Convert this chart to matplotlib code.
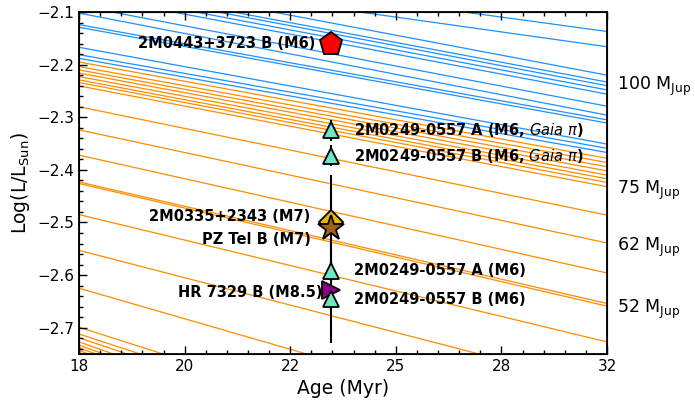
import numpy as np
import matplotlib
matplotlib.use('Agg')
import matplotlib.pyplot as plt
from matplotlib.ticker import MultipleLocator, FixedLocator

## evolutionary tracks, log(L/Lsun) read at 18 and 32 Myr
track_ages = [18, 32]
blue_L18 = [-2.000, -2.025, -2.030, -2.045, -2.050, -2.058, -2.066, -2.088,
            -2.102, -2.124, -2.129, -2.167, -2.181, -2.188]
blue_L32 = [-2.137, -2.166, -2.220, -2.233, -2.240, -2.248, -2.256, -2.279,
            -2.296, -2.305, -2.311, -2.351, -2.359, -2.367]
orange_L18 = [-2.195, -2.2036, -2.210, -2.216, -2.2227, -2.229, -2.234, -2.2404,
              -2.280, -2.324, -2.372, -2.423, -2.426, -2.485, -2.553, -2.625,
              -2.699, -2.712, -2.719, -2.727, -2.733, -2.738, -2.743, -2.747]
orange_L32 = [-2.378, -2.386, -2.394, -2.402, -2.410, -2.417, -2.424, -2.432,
              -2.486, -2.539, -2.596, -2.654, -2.659, -2.727, -2.813, -2.915,
              -3.02, -3.04, -3.06, -3.08, -3.10, -3.12, -3.14, -3.16]

## mass labels on the right
mass_labels = [100, 75, 62, 52]
mass_logL = [-2.233, -2.432, -2.539, -2.657]

## objects
obj_names = ['2M0443+3723 B (M6)', r'2M0249-0557 A (M6, $\mathit{Gaia}$ $\pi$)',
             r'2M0249-0557 B (M6, $\mathit{Gaia}$ $\pi$)', '2M0335+2343 (M7)',
             'PZ Tel B (M7)', '2M0249-0557 A (M6)', 'HR 7329 B (M8.5)', '2M0249-0557 B (M6)']
obj_age = [23.7, 23.7, 23.7, 23.7, 23.7, 23.7, 23.7, 23.7]
obj_logL = [-2.160, -2.325, -2.373, -2.500, -2.510, -2.592, -2.629, -2.645]
obj_err = [0.0, 0.02, 0.02, 0.0, 0.10, 0.02, 0.10, 0.02]

xtick_labels = ['18', '20', '22', '25', '28', '32']

# styles
obj_marker = ['p', '^', '^', 'D', '*', '^', '>', '^']
obj_color = ['red', '#72e6c4', '#72e6c4', '#e6b800', '#a0601c', '#72e6c4', '#8b008b', '#72e6c4']
obj_ms = [17, 11, 11, 12, 19, 11, 13, 11]
# (dx, dy, side) in points
obj_lab = [(-11.5, 0, 'right'), (16.5, 0, 'left'), (16.5, 0, 'left'),
           (-15, 4, 'right'), (-15, -8.5, 'right'), (16.5, 0, 'left'),
           (-6.5, -1.5, 'right'), (16.5, -0.5, 'left')]

fig, ax = plt.subplots(figsize=(6.95, 4.01), dpi=100)
fig.subplots_adjust(left=0.1137, right=0.8734, top=0.970, bottom=0.1172)

xt = np.log10(track_ages)
for a, b in zip(blue_L18, blue_L32):
    ax.plot(xt, [a, b], color='dodgerblue', lw=0.9, zorder=1)
for a, b in zip(orange_L18, orange_L32):
    ax.plot(xt, [a, b], color='darkorange', lw=0.9, zorder=1)

xo = np.log10(obj_age)
ax.errorbar(xo, obj_logL, yerr=obj_err, fmt='none', ecolor='k', elinewidth=1.5, zorder=3)
for i in range(len(obj_names)):
    ax.plot(xo[i], obj_logL[i], marker=obj_marker[i], ms=obj_ms[i], mfc=obj_color[i],
            mec='k', mew=1.3, ls='none', zorder=4 + i * 0.01)
    dx, dy, side = obj_lab[i]
    ax.annotate(obj_names[i], (xo[i], obj_logL[i]), xytext=(dx, dy), textcoords='offset points',
                ha=side, va='center', fontsize=10.5, fontweight='bold', zorder=6)

lo, hi = np.log10(18), np.log10(32)
ax.set_xlim(lo, hi)
ax.set_ylim(-2.75, -2.1)
ax.xaxis.set_major_locator(FixedLocator(np.linspace(lo, hi, 6)))
ax.xaxis.set_minor_locator(FixedLocator(np.linspace(lo, hi, 26)))
ax.set_xticklabels(xtick_labels)
ax.yaxis.set_major_locator(MultipleLocator(0.1))
ax.yaxis.set_minor_locator(MultipleLocator(0.02))
ax.tick_params(which='both', direction='in', top=True, right=True, labelsize=11, width=1)
ax.tick_params(which='major', length=6)
ax.tick_params(which='minor', length=3)
for s in ax.spines.values():
    s.set_linewidth(1.3)
ax.set_xlabel('Age (Myr)', fontsize=13.5)
ax.set_ylabel(r'Log(L/L$_{\rm Sun}$)', fontsize=13.5)

ax2 = ax.twinx()
ax2.set_ylim(ax.get_ylim())
ax2.set_yticks(mass_logL)
ax2.set_yticklabels([r'%d M$_{\rm Jup}$' % m for m in mass_labels])
ax2.tick_params(length=0, labelsize=12.5, pad=7)

plt.savefig('out.png')
